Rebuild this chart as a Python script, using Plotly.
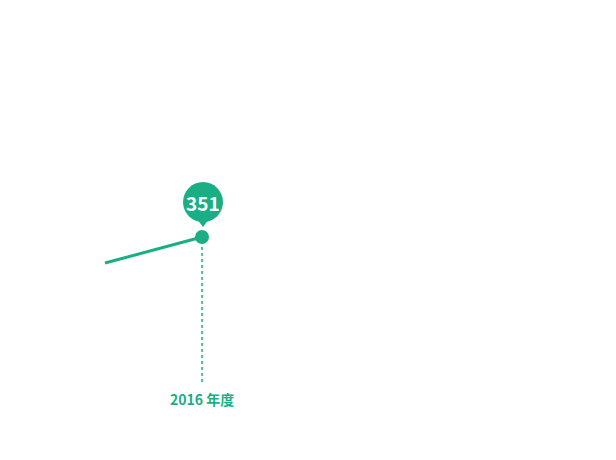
import plotly.graph_objects as go

# data
years = ["2015 年度", "2016 年度"]
values = [331, 351]
shown_year = "2016 年度"
shown_value = 351

green = "#1aae84"

y_min, y_max = 239.5, 527.2

fig = go.Figure()

fig.add_trace(go.Scatter(x=years, y=values, mode="lines",
                         line=dict(color=green, width=3),
                         showlegend=False))

# drop line from the point down to the axis
fig.add_trace(go.Scatter(x=[shown_year, shown_year], y=[y_min, shown_value],
                         mode="lines", line=dict(color=green, width=1.5, dash="dot"),
                         hoverinfo="skip", showlegend=False))

fig.add_trace(go.Scatter(x=[shown_year], y=[shown_value], mode="markers",
                         marker=dict(color=green, size=14),
                         showlegend=False))

# balloon above the point
fig.add_shape(type="circle", xref="x", yref="y",
              xsizemode="pixel", ysizemode="pixel",
              xanchor=shown_year, yanchor=shown_value,
              x0=-19, x1=21, y0=15, y1=55,
              fillcolor=green, line=dict(width=0), layer="above")
fig.add_shape(type="path", xref="x", yref="y",
              xsizemode="pixel", ysizemode="pixel",
              xanchor=shown_year, yanchor=shown_value,
              path="M -5,18 L 7,18 L 1,10 Z",
              fillcolor=green, line=dict(width=0), layer="above")
fig.add_annotation(x=shown_year, y=shown_value, text="<b>%d</b>" % shown_value,
                   showarrow=False, yshift=35, xshift=1,
                   font=dict(family="Noto Sans CJK JP", size=19, color="white"))

fig.update_layout(
    width=616, height=460,
    margin=dict(l=0, r=0, t=0, b=86),
    plot_bgcolor="white", paper_bgcolor="white",
    xaxis=dict(type="category", categoryorder="array", categoryarray=years,
               range=[-1.0, 5.35],
               tickvals=[shown_year], ticktext=["<b>%s</b>" % shown_year],
               tickfont=dict(family="Noto Sans CJK JP", size=14, color=green),
               ticklabelstandoff=8,
               showgrid=False, zeroline=False, showline=False, ticks=""),
    yaxis=dict(range=[y_min, y_max], visible=False),
)

fig.write_html("out.html")
